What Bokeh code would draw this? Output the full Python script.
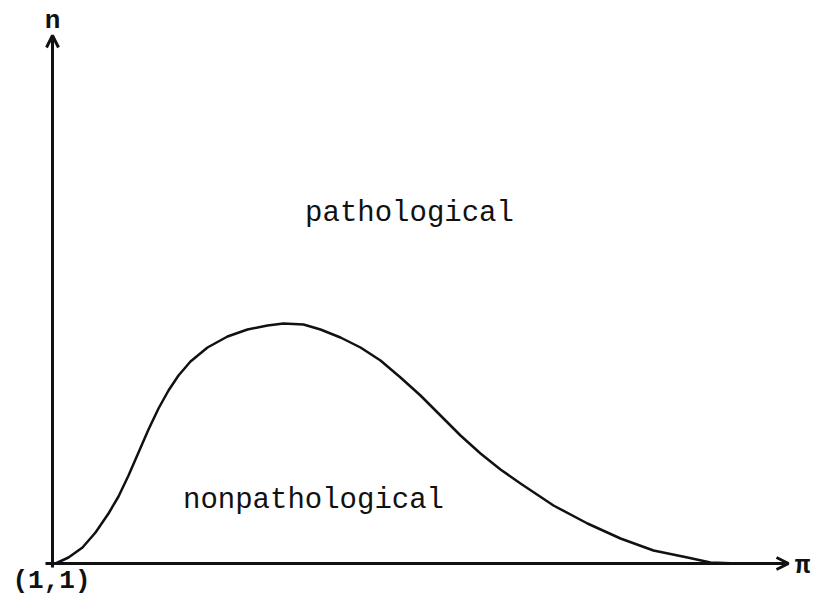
from bokeh.plotting import figure
from bokeh.models import Range1d, Arrow, OpenHead, ColumnDataSource
from bokeh.core.properties import value
from bokeh.embed import file_html
from bokeh.resources import INLINE

# Boundary curve between the regions (pi on x, n on y)
pi_vals = [0, 3, 16, 30, 43, 56, 66, 76, 86, 96, 106, 116, 126, 138, 155,
           175, 195, 215, 231, 251, 268, 288, 308, 328, 348, 368, 388, 408,
           428, 448, 468, 501, 535, 568, 601, 635, 658, 685]
n_vals = [0, 0, 6, 16, 31, 50, 67, 88, 111, 134, 155, 173, 188, 202, 216,
          227, 234, 238, 240, 239, 234, 226, 216, 203, 186, 168, 148, 128,
          110, 94, 80, 58, 40, 25, 13, 6, 1, 0]

# Axis extents
x_axis_start, x_axis_end = -7, 736
y_axis_start, y_axis_end = -4, 528

# Labels
region_labels = ["pathological", "nonpathological"]
region_x = [357, 261]
region_y = [350, 63]
axis_labels = ["n", "π", "(1,1)"]
axis_lx = [0, 750, -1]
axis_ly = [543, -2, -17]

FONT = value("Liberation Mono")

p = figure(width=811, height=595, output_backend="svg", toolbar_location=None,
           x_range=Range1d(-52, 759), y_range=Range1d(-32, 563),
           x_axis_location=None, y_axis_location=None, min_border=0)
p.grid.visible = False
p.outline_line_color = None
p.background_fill_color = "white"
p.border_fill_color = "white"

ink = "#111111"

# axes with open arrow heads
p.add_layout(Arrow(end=OpenHead(size=12, line_width=3, line_color=ink),
                   x_start=x_axis_start, y_start=0, x_end=x_axis_end, y_end=0,
                   line_width=3, line_color=ink))
p.add_layout(Arrow(end=OpenHead(size=12, line_width=3, line_color=ink),
                   x_start=0, y_start=y_axis_start, x_end=0, y_end=y_axis_end,
                   line_width=3, line_color=ink))

# boundary curve
p.line(pi_vals, n_vals, line_width=2.5, line_color=ink, line_join="round")

src_regions = ColumnDataSource(dict(x=region_x, y=region_y, t=region_labels))
p.text(x="x", y="y", text="t", source=src_regions, text_font=FONT,
       text_font_size="29px", text_color=ink,
       text_align="center", text_baseline="middle")

src_axes = ColumnDataSource(dict(x=axis_lx, y=axis_ly, t=axis_labels))
p.text(x="x", y="y", text="t", source=src_axes, text_font=FONT,
       text_font_size="26px", text_font_style="bold", text_color=ink,
       text_align="center", text_baseline="middle")

open("out.html", "w").write(file_html(p, INLINE))
